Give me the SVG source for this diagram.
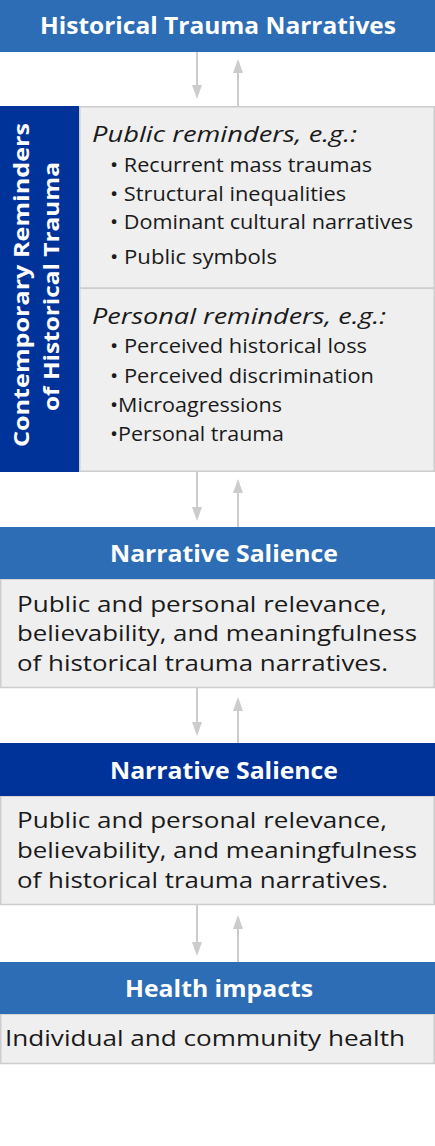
<svg xmlns="http://www.w3.org/2000/svg" width="435" height="1146" viewBox="0 0 435 1146">
<style>
.hdr{fill:#2D6DB5}
.dark{fill:#003399}
.body{fill:#EFEFEF;stroke:#CDCDCD;stroke-width:1.5}
.ht{font-family:"Open Sans","Liberation Sans",sans-serif;font-weight:bold;font-size:23px;fill:#fff;text-anchor:middle}
.vt{font-size:21px}
.bt{font-family:"Open Sans","Liberation Sans",sans-serif;font-size:21px;fill:#1a1a1a}
.it{font-family:"Open Sans","Liberation Sans",sans-serif;font-style:italic;font-size:22px;fill:#1a1a1a}
.li{font-family:"Open Sans","Liberation Sans",sans-serif;font-size:20px;fill:#1a1a1a}
.conn{stroke:#CCCCCC;stroke-width:2;fill:none;marker-end:url(#ah)}
</style>
<defs>
<marker id="ah" markerUnits="userSpaceOnUse" markerWidth="14" markerHeight="10" viewBox="0 0 14 10" refX="2" refY="5" orient="auto">
<path d="M0,0 L14,5 L0,10 z" fill="#CCCCCC"/>
</marker>
</defs>
<rect width="435" height="1146" fill="#fff"/>

<g id="historical-trauma-narratives">
<rect class="hdr" x="0" y="0" width="435" height="52"/>
<text class="ht" x="218" y="34" textLength="356" lengthAdjust="spacingAndGlyphs">Historical Trauma Narratives</text>
</g>

<g id="contemporary-reminders">
<rect class="dark" x="0" y="106" width="79" height="366"/>
<text class="ht vt" transform="translate(29,285) rotate(-90)" textLength="324" lengthAdjust="spacingAndGlyphs">Contemporary Reminders</text>
<text class="ht vt" transform="translate(59,286.5) rotate(-90)" textLength="249" lengthAdjust="spacingAndGlyphs">of Historical Trauma</text>
</g>

<g id="public-reminders">
<rect class="body" x="79.75" y="106.75" width="354.5" height="181.5"/>
<text class="it" x="92" y="142" textLength="265" lengthAdjust="spacingAndGlyphs">Public reminders, e.g.:</text>
<text class="li" x="110" y="172" textLength="262" lengthAdjust="spacingAndGlyphs">• Recurrent mass traumas</text>
<text class="li" x="110" y="201" textLength="236" lengthAdjust="spacingAndGlyphs">• Structural inequalities</text>
<text class="li" x="110" y="229" textLength="303" lengthAdjust="spacingAndGlyphs">• Dominant cultural narratives</text>
<text class="li" x="110" y="264" textLength="167" lengthAdjust="spacingAndGlyphs">• Public symbols</text>
</g>

<g id="personal-reminders">
<rect class="body" x="79.75" y="288.25" width="354.5" height="183"/>
<text class="it" x="92" y="324" textLength="294" lengthAdjust="spacingAndGlyphs">Personal reminders, e.g.:</text>
<text class="li" x="110" y="353" textLength="257" lengthAdjust="spacingAndGlyphs">• Perceived historical loss</text>
<text class="li" x="110" y="383" textLength="264" lengthAdjust="spacingAndGlyphs">• Perceived discrimination</text>
<text class="li" x="110" y="412" textLength="172" lengthAdjust="spacingAndGlyphs">•Microagressions</text>
<text class="li" x="110" y="441" textLength="174" lengthAdjust="spacingAndGlyphs">•Personal trauma</text>
</g>

<g id="narrative-salience-1">
<rect class="body" x="0.75" y="579" width="433.5" height="108.5"/>
<rect class="hdr" x="0" y="527" width="435" height="52"/>
<text class="ht" x="224" y="562" textLength="228" lengthAdjust="spacingAndGlyphs">Narrative Salience</text>
<text class="bt" x="17" y="612" textLength="370" lengthAdjust="spacingAndGlyphs">Public and personal relevance,</text>
<text class="bt" x="17" y="641" textLength="400" lengthAdjust="spacingAndGlyphs">believability, and meaningfulness</text>
<text class="bt" x="17" y="671" textLength="371" lengthAdjust="spacingAndGlyphs">of historical trauma narratives.</text>
</g>

<g id="narrative-salience-2">
<rect class="body" x="0.75" y="796" width="433.5" height="108.5"/>
<rect class="dark" x="0" y="743" width="435" height="53"/>
<text class="ht" x="224" y="779" textLength="228" lengthAdjust="spacingAndGlyphs">Narrative Salience</text>
<text class="bt" x="17" y="828" textLength="370" lengthAdjust="spacingAndGlyphs">Public and personal relevance,</text>
<text class="bt" x="17" y="858" textLength="400" lengthAdjust="spacingAndGlyphs">believability, and meaningfulness</text>
<text class="bt" x="17" y="888" textLength="371" lengthAdjust="spacingAndGlyphs">of historical trauma narratives.</text>
</g>

<g id="health-impacts">
<rect class="body" x="0.75" y="1014" width="433.5" height="49.5"/>
<rect class="hdr" x="0" y="962" width="435" height="52"/>
<text class="ht" x="219" y="997" textLength="188" lengthAdjust="spacingAndGlyphs">Health impacts</text>
<text class="bt" x="5" y="1046" textLength="400" lengthAdjust="spacingAndGlyphs">Individual and community health</text>
</g>

<g id="connectors">
<line class="conn" x1="197" y1="52" x2="197" y2="87"/>
<line class="conn" x1="238" y1="107" x2="238" y2="71"/>
<line class="conn" x1="197" y1="472" x2="197" y2="509"/>
<line class="conn" x1="238" y1="527" x2="238" y2="491"/>
<line class="conn" x1="197" y1="688" x2="197" y2="724"/>
<line class="conn" x1="238" y1="743" x2="238" y2="709"/>
<line class="conn" x1="197" y1="905" x2="197" y2="944"/>
<line class="conn" x1="238" y1="962" x2="238" y2="927"/>
</g>
</svg>
